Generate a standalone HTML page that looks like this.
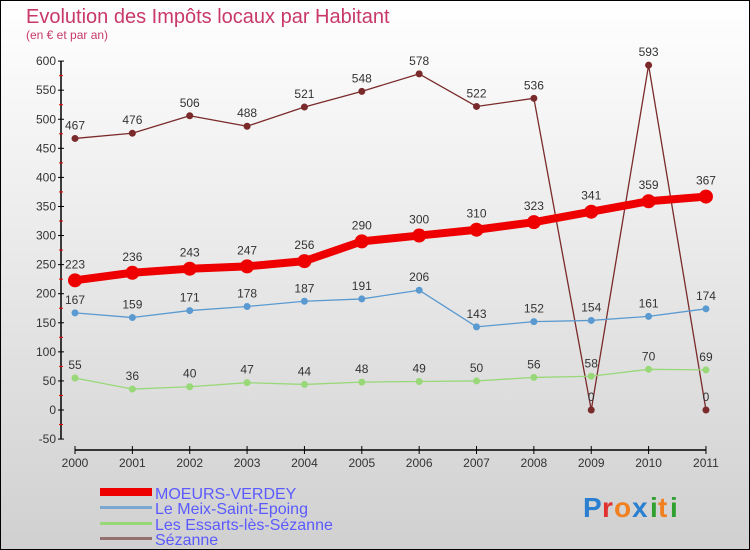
<!DOCTYPE html>
<html><head><meta charset="utf-8"><style>
body{margin:0;width:750px;height:550px;overflow:hidden}
svg{display:block;font-family:"Liberation Sans",sans-serif}
</style></head><body>
<svg width="750" height="550">
<defs><linearGradient id="bg" x1="0" y1="0" x2="0" y2="1"><stop offset="0" stop-color="#ffffff"/><stop offset="1" stop-color="#d0d0d0"/></linearGradient></defs>
<rect x="0.5" y="0.5" width="749" height="549" fill="url(#bg)" stroke="#000"/>
<text x="26" y="23" font-size="20" fill="#c8386a">Evolution des Impôts locaux par Habitant</text>
<text x="26" y="39" font-size="12" fill="#c8386a">(en € et par an)</text>
<g id="axes"></g>
<g id="series"></g>
<g>
<rect x="100" y="488" width="52" height="8" fill="#e00"/>
<text x="155" y="499" font-size="16" fill="#5a5aff">MOEURS-VERDEY</text>
<rect x="100" y="506" width="52" height="3" fill="#7aa8d0"/>
<text x="155" y="514" font-size="16" fill="#5a5aff">Le Meix-Saint-Epoing</text>
<rect x="100" y="522" width="52" height="3" fill="#98d878"/>
<text x="155" y="530" font-size="16" fill="#5a5aff">Les Essarts-lès-Sézanne</text>
<rect x="100" y="537" width="52" height="3" fill="#957070"/>
<text x="155" y="545" font-size="16" fill="#5a5aff">Sézanne</text>
</g>
<g font-size="28" font-weight="bold">
<text x="583" y="517" fill="#2a7fd0">P</text><text x="602" y="517" fill="#e03030">r</text><text x="614" y="517" fill="#f08020">o</text><text x="632" y="517" fill="#2a7fd0">x</text><text x="650" y="517" fill="#30a030">i</text><text x="658" y="517" fill="#f08020">t</text><text x="670" y="517" fill="#30a030">i</text>
</g>
</svg>
<script>
const years=[2000,2001,2002,2003,2004,2005,2006,2007,2008,2009,2010,2011];
const moeurs=[223,236,243,247,256,290,300,310,323,341,359,367];
const meix=[167,159,171,178,187,191,206,143,152,154,161,174];
const essarts=[55,36,40,47,44,48,49,50,56,58,70,69];
const sezanne=[467,476,506,488,521,548,578,522,536,0,593,0];
const yTicks=[600,550,500,450,400,350,300,250,200,150,100,50,0,-50];
const NS="http://www.w3.org/2000/svg";
const X=i=>75+i*57.36;
const Y=v=>410-v*0.5815;
function el(t,a,p){const e=document.createElementNS(NS,t);for(const k in a)e.setAttribute(k,a[k]);p.appendChild(e);return e;}
const ax=document.getElementById('axes'),sg=document.getElementById('series');
let yl=el('line',{x1:61,y1:Y(600),x2:61,y2:Y(-50),stroke:'#000','stroke-width':1.5},ax);


yTicks.forEach(v=>{
 el('line',{x1:58,x2:64,y1:Y(v),y2:Y(v),stroke:'#000'},ax);
 if(v>-50)el('line',{x1:59,x2:63,y1:Y(v-25),y2:Y(v-25),stroke:'#e00'},ax);
 const t=el('text',{x:56,y:Y(v)+4,'font-size':12,'text-anchor':'end',fill:'#333'},ax);t.textContent=v;
 
 
});
let xl=el('line',{x1:X(0),x2:X(11),y1:450,y2:450,stroke:'#000','stroke-width':1.5},ax);


years.forEach((y,i)=>{
 el('line',{x1:X(i),x2:X(i),y1:446,y2:454,stroke:'#000'},ax);
 const t=el('text',{x:X(i),y:467,'font-size':12,'text-anchor':'middle',fill:'#333'},ax);t.textContent=y;
 
 
});
function series(data,color,w,r,name){
 const g=el('g',{},sg);
 
 
 el('polyline',{points:data.map((v,i)=>X(i)+','+Y(v)).join(' '),fill:'none',stroke:color,'stroke-width':w,'stroke-linejoin':'round'},g);
 data.forEach((v,i)=>{
  const c=el('circle',{cx:X(i),cy:Y(v),r:r,fill:color},g);
  
  
  const t=el('text',{x:X(i),y:Y(v)-9-(r>4?3:0),'font-size':12,'text-anchor':'middle',fill:'#333'},g);t.textContent=v;
  
  
 });
}
series(sezanne,'#7a2a2a',1.3,3.5,'series-sezanne');
series(essarts,'#98d878',1.3,3.5,'series-essarts');
series(meix,'#5a9ad0',1.3,3.5,'series-meix');
series(moeurs,'#e00',8,7,'series-moeurs');
</script>
</body></html>
